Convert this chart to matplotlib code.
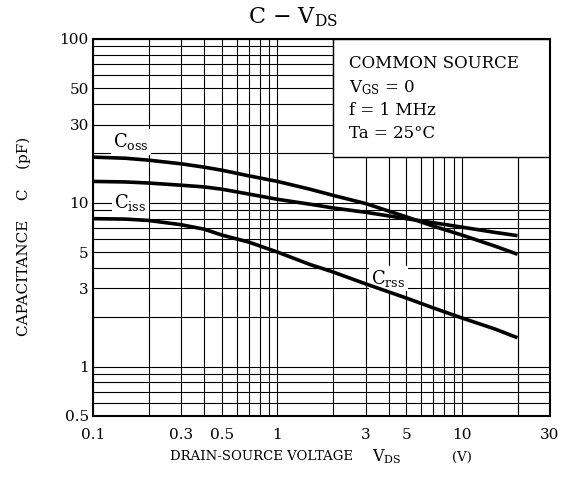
import matplotlib

matplotlib.use("Agg")
import matplotlib.pyplot as plt
from matplotlib.patches import Rectangle
from matplotlib.ticker import FixedLocator, NullFormatter

plt.rcParams["font.family"] = "DejaVu Serif"
plt.rcParams["mathtext.fontset"] = "dejavuserif"

# values (pF vs V)
vds = [0.1, 0.15, 0.2, 0.3, 0.4, 0.5, 0.7, 1, 1.5, 2, 3, 5, 7, 10, 15, 20]
c_oss = [19.0, 18.7, 18.2, 17.3, 16.5, 15.8, 14.6, 13.5, 12.1, 11.1, 9.9, 8.2, 7.2, 6.35, 5.45, 4.85]
c_iss = [13.5, 13.4, 13.2, 12.8, 12.5, 12.1, 11.3, 10.5, 9.8, 9.3, 8.75, 8.0, 7.55, 7.1, 6.6, 6.3]
c_rss = [8.0, 7.95, 7.8, 7.35, 6.9, 6.35, 5.75, 5.0, 4.2, 3.78, 3.2, 2.62, 2.28, 1.98, 1.7, 1.5]

x_ticks = [0.1, 0.3, 0.5, 1, 3, 5, 10, 30]
x_ticklabels = ["0.1", "0.3", "0.5", "1", "3", "5", "10", "30"]
y_ticks = [0.5, 1, 3, 5, 10, 30, 50, 100]
y_ticklabels = ["0.5", "1", "3", "5", "10", "30", "50", "100"]

x_grid = [m * 10.0 ** e for e in (-1, 0, 1) for m in range(1, 10)] + [20, 30]
y_grid = [m * 10.0 ** e for e in (-1, 0, 1) for m in range(1, 10)] + [100]

fig = plt.figure(figsize=(5.67, 4.87), dpi=100)
ax = fig.add_axes([0.164, 0.146, 0.806, 0.774])
ax.set_xscale("log")
ax.set_yscale("log")
ax.set_xlim(0.1, 30)
ax.set_ylim(0.5, 100)

for gx in x_grid:
    ax.axvline(gx, color="black", lw=0.8, zorder=1)
for gy in y_grid:
    ax.axhline(gy, color="black", lw=0.8, zorder=1)

for series in (c_oss, c_iss, c_rss):
    ax.plot(vds, series, color="black", lw=2.6, solid_capstyle="butt",
            solid_joinstyle="round", zorder=3)

label_box = dict(facecolor="white", edgecolor="none", pad=1.5)
ax.text(0.16, 23.5, r"C$_{\mathrm{oss}}$", fontsize=13, ha="center", va="center",
        bbox=label_box, zorder=2)
ax.text(0.16, 10.0, r"C$_{\mathrm{iss}}$", fontsize=13, ha="center", va="center",
        bbox=label_box, zorder=2)
ax.text(4.0, 3.45, r"C$_{\mathrm{rss}}$", fontsize=13, ha="center", va="center",
        bbox=label_box, zorder=2)

# condition box in the upper right corner
ax.add_patch(Rectangle((0.525, 0.687), 0.475, 0.313, transform=ax.transAxes,
                       facecolor="white", edgecolor="black", lw=1.0, zorder=5))
cond_lines = ["COMMON SOURCE", r"V$_{\mathrm{GS}}$ = 0", "f = 1 MHz", "Ta = 25°C"]
for i, line in enumerate(cond_lines):
    ax.text(0.56, 0.934 - i * 0.062, line, transform=ax.transAxes, fontsize=12,
            ha="left", va="center", zorder=6)

ax.xaxis.set_major_locator(FixedLocator(x_ticks))
ax.xaxis.set_minor_formatter(NullFormatter())
ax.set_xticklabels(x_ticklabels)
ax.yaxis.set_major_locator(FixedLocator(y_ticks))
ax.yaxis.set_minor_formatter(NullFormatter())
ax.set_yticklabels(y_ticklabels)
ax.tick_params(which="both", length=0, labelsize=11)
ax.tick_params(axis="x", pad=9)
ax.tick_params(axis="y", pad=3)
for spine in ax.spines.values():
    spine.set_linewidth(1.5)
    spine.set_zorder(7)

fig.text(0.517, 0.965, r"C $-$ V$_{\mathrm{DS}}$", fontsize=16, ha="center", va="center")

# axis titles, spaced like the datasheet
fig.text(170 / 567, 1 - 457 / 487, "DRAIN-SOURCE VOLTAGE", fontsize=9.5,
         ha="left", va="center")
fig.text(372 / 567, 1 - 457 / 487, r"V$_{\mathrm{DS}}$", fontsize=11.5,
         ha="left", va="center")
fig.text(452 / 567, 1 - 457 / 487, "(V)", fontsize=9.5, ha="left", va="center")
fig.text(24 / 567, 1 - 236 / 487, "CAPACITANCE    C    (pF)", fontsize=11,
         rotation=90, ha="center", va="center")

fig.savefig("out.png", dpi=100)
